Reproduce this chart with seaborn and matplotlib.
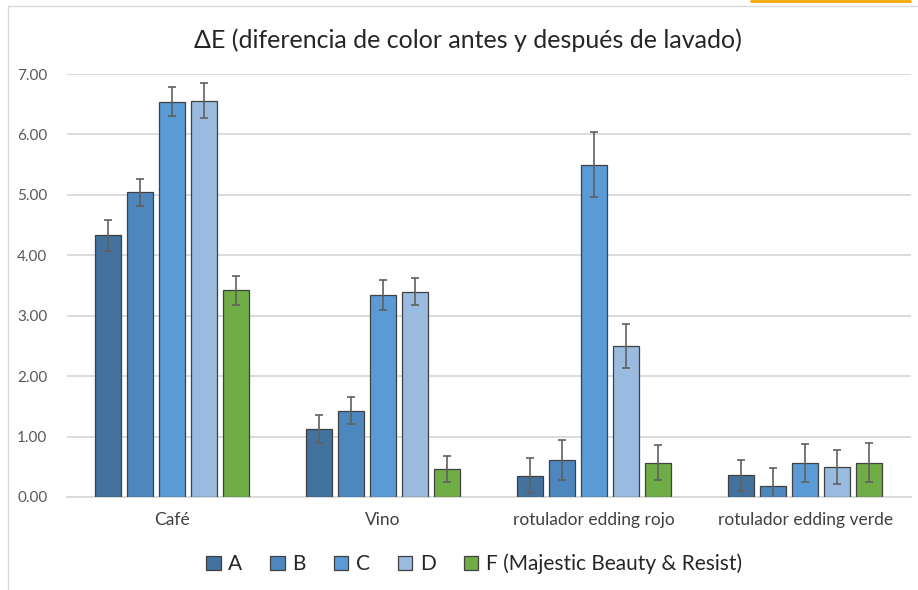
import numpy as np
import pandas as pd
import matplotlib
matplotlib.use("Agg")
import matplotlib.pyplot as plt
from matplotlib.lines import Line2D
from matplotlib.patches import Rectangle
import seaborn as sns

# Data
categories = ["Café", "Vino", "rotulador edding rojo", "rotulador edding verde"]
series = ["A", "B", "C", "D", "F (Majestic Beauty & Resist)"]
values_A = [4.33, 1.13, 0.35, 0.36]
values_B = [5.04, 1.43, 0.61, 0.19]
values_C = [6.54, 3.34, 5.50, 0.56]
values_D = [6.56, 3.40, 2.50, 0.50]
values_F = [3.42, 0.46, 0.57, 0.57]
err_A = [0.26, 0.23, 0.29, 0.26]
err_B = [0.23, 0.23, 0.33, 0.29]
err_C = [0.24, 0.25, 0.54, 0.31]
err_D = [0.29, 0.23, 0.36, 0.28]
err_F = [0.24, 0.22, 0.29, 0.32]
colors = ["#43729E", "#4E87BE", "#5B9BD5", "#9ABAE0", "#70AD47"]

all_vals = [values_A, values_B, values_C, values_D, values_F]
all_errs = [err_A, err_B, err_C, err_D, err_F]

rows = []
for s, vals, errs in zip(series, all_vals, all_errs):
    for c, v, e in zip(categories, vals, errs):
        rows.append({"categoria": c, "serie": s, "deltaE": v, "err": e})
df = pd.DataFrame(rows)

sns.set_style("white")
plt.rcParams["font.family"] = ["Lato", "DejaVu Sans"]

fig = plt.figure(figsize=(9.18, 5.90), dpi=100)
ax = fig.add_axes([66.7 / 918, 93 / 590, 844 / 918, 423 / 590])

sns.barplot(data=df, x="categoria", y="deltaE", hue="serie", order=categories,
            hue_order=series, palette=colors, saturation=1, width=0.76, gap=0.19,
            edgecolor="#404040", linewidth=0.9, errorbar=None, ax=ax, zorder=3)

# error bars on top of each bar
for cont, errs in zip(ax.containers, all_errs):
    xs = [b.get_x() + b.get_width() / 2 for b in cont]
    hs = [b.get_height() for b in cont]
    ax.errorbar(xs, hs, yerr=errs, fmt="none", ecolor="#606060",
                elinewidth=1.2, capsize=3.2, capthick=1.2, zorder=4)

ax.set_ylim(0, 7)
ax.set_xlim(-0.5, 3.5)
ax.set_yticks(np.arange(0, 7.01, 1))
ax.set_yticklabels([f"{v:.2f}" for v in np.arange(0, 7.01, 1)])
ax.yaxis.grid(True, color="#D9D9D9", linewidth=1.3, zorder=0)
ax.set_axisbelow(True)
for side in ["left", "right", "top"]:
    ax.spines[side].set_visible(False)
ax.spines["bottom"].set_color("#D9D9D9")
ax.spines["bottom"].set_linewidth(1.3)
ax.tick_params(axis="y", length=0, pad=14, labelsize=11, labelcolor="#595959")
ax.tick_params(axis="x", length=0, pad=11, labelsize=12.5, labelcolor="#404040")
ax.set_xlabel("")
ax.set_ylabel("")

fig.text(468 / 918, 550 / 590, "ΔE (diferencia de color antes y después de lavado)",
         ha="center", va="center", fontsize=18, color="#262626")

handles = [Rectangle((0, 0), 1, 1, facecolor=c, edgecolor="#404040", linewidth=0.9)
           for c in colors]
ax.legend_.remove()
fig.legend(handles, series, loc="center", bbox_to_anchor=(474 / 918, 26 / 590),
           ncol=5, frameon=False, fontsize=15, handlelength=0.7,
           handleheight=0.7, handletextpad=0.35, columnspacing=1.35,
           labelcolor="#262626")

# chart frame and the orange line at the top edge
fig.add_artist(Rectangle((8 / 918, -0.1), 1.2, (590 - 6) / 590 + 0.1,
                         transform=fig.transFigure, fill=False,
                         edgecolor="#D9D9D9", linewidth=1.0))
fig.add_artist(Line2D([751 / 918, 910 / 918], [0.999, 0.999],
                      transform=fig.transFigure, color="#F5A800", linewidth=2))

fig.savefig("out.png", dpi=100)
